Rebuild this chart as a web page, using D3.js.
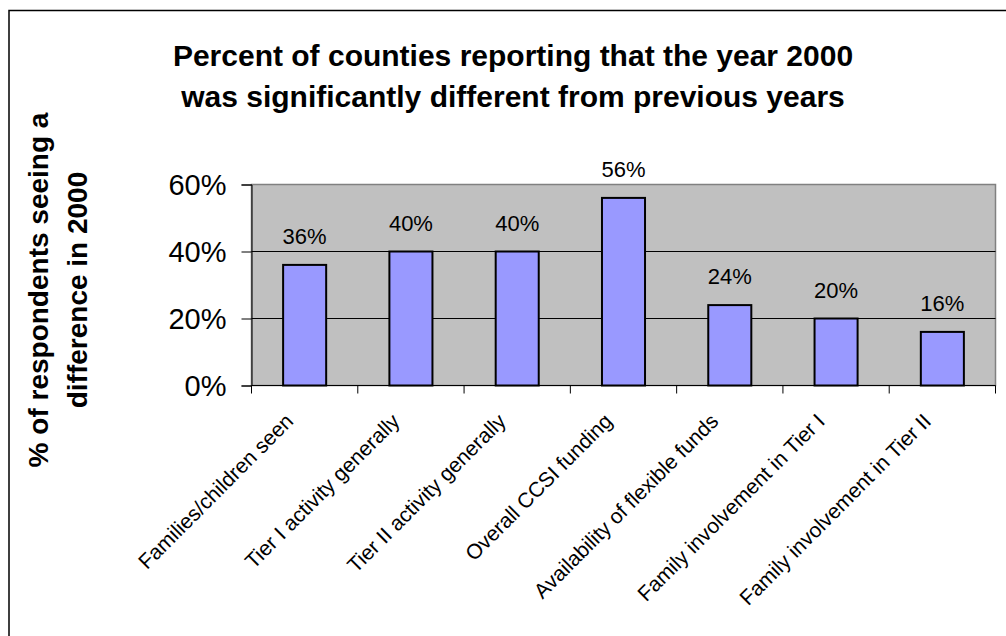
<!DOCTYPE html>
<html><head><meta charset="utf-8">
<script src="https://cdn.jsdelivr.net/npm/d3@7"></script>
<style>body{margin:0;background:#fff}svg{display:block;font-family:"Liberation Sans",Arial,sans-serif}</style>
</head><body><svg id="c" width="1006" height="636"></svg>
<script>
const categories = ["Families/children seen","Tier I activity generally","Tier II activity generally","Overall CCSI funding","Availability of flexible funds","Family involvement in Tier I","Family involvement in Tier II"];
const values = [36,40,40,56,24,20,16];
const yTicks = [0,20,40,60];
const titleLines = ["Percent of counties reporting that the year 2000","was significantly different from previous years"];
const yTitleLines = ["% of respondents seeing a","difference in 2000"];

const svg = d3.select("#c");
svg.append("rect").attr("x",9).attr("y",10.5).attr("width",1100).attr("height",700).attr("fill","#fff").attr("stroke","#000").attr("stroke-width",1.5);

const L=251.5,R=995.5,T=184.5,B=385.5;
const x = d3.scaleBand().domain(categories).range([L,R]).paddingInner(0).paddingOuter(0);
const y = d3.scaleLinear().domain([0,60]).range([B,T]);

svg.append("rect").attr("x",L).attr("y",T).attr("width",R-L).attr("height",B-T).attr("fill","#c0c0c0").attr("stroke","#808080").attr("stroke-width",1.5);
svg.append("g").selectAll("line").data(yTicks.filter(d=>d>0&&d<60)).join("line")
  .attr("x1",L).attr("x2",R).attr("y1",d=>y(d)).attr("y2",d=>y(d)).attr("stroke","#000").attr("stroke-width",1);

const bw = x.bandwidth()*0.405;
svg.append("g").selectAll("rect").data(values).join("rect")
  .attr("x",(d,i)=>x(categories[i])+x.bandwidth()/2-bw/2).attr("width",bw)
  .attr("y",d=>y(d)).attr("height",d=>B-y(d))
  .attr("fill","#9999ff").attr("stroke","#000").attr("stroke-width",2);

svg.append("g").selectAll("text").data(values).join("text")
  .attr("x",(d,i)=>x(categories[i])+x.bandwidth()/2).attr("y",d=>y(d)-21)
  .attr("text-anchor","middle").attr("font-size",22).text(d=>d+"%");

// y axis
const ya = svg.append("g").attr("transform",`translate(${L},0)`)
  .call(d3.axisLeft(y).tickValues(yTicks).tickFormat(d=>d+"%").tickSize(10).tickPadding(15));
ya.select(".domain").attr("stroke","#000");
ya.selectAll("line").attr("stroke","#000");
ya.selectAll("text").attr("font-size",29).attr("font-family","Liberation Sans, Arial, sans-serif").attr("fill","#000").attr("dy","0.36em");

// x axis
const xa = svg.append("g").attr("transform",`translate(0,${B})`);
xa.append("line").attr("x1",L).attr("x2",R).attr("stroke","#000");
xa.selectAll("line.t").data(d3.range(categories.length+1)).join("line").attr("class","t")
  .attr("x1",i=>L+i*x.bandwidth()).attr("x2",i=>L+i*x.bandwidth()).attr("y1",0).attr("y2",8).attr("stroke","#000");
xa.selectAll("text").data(categories).join("text")
  .attr("transform",d=>`translate(${x(d)+x.bandwidth()/2-10},${37}) rotate(-45)`)
  .attr("text-anchor","end").attr("font-size",21).text(d=>d);

svg.append("g").selectAll("text").data(titleLines).join("text")
  .attr("x",513).attr("y",(d,i)=>66+i*41).attr("text-anchor","middle").attr("font-size",30).attr("font-weight","bold").text(d=>d);

svg.append("g").selectAll("text").data(yTitleLines).join("text")
  .attr("transform",(d,i)=>`translate(${48+i*39},290) rotate(-90)`).attr("text-anchor","middle")
  .attr("font-size",28).attr("font-weight","bold").text(d=>d);
</script></body></html>
